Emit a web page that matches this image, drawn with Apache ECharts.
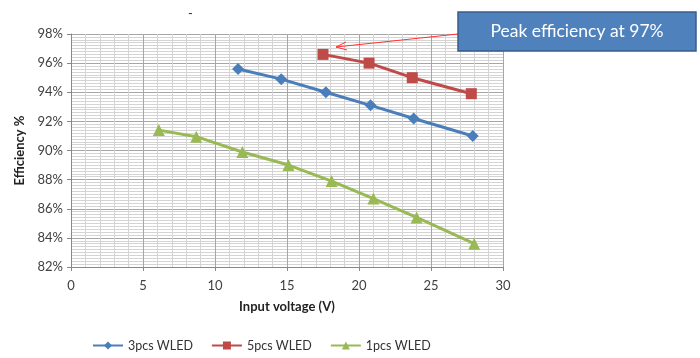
<!DOCTYPE html>
<html><head><meta charset="utf-8">
<script src="https://cdn.jsdelivr.net/npm/echarts@6/dist/echarts.min.js"></script>
<style>html,body{margin:0;padding:0;background:#fff}#c{width:700px;height:358px}</style>
</head><body><div id="c"></div>
<script>
const seriesNames = ['3pcs WLED', '5pcs WLED', '1pcs WLED'];
const x3 = [11.6, 14.6, 17.7, 20.8, 23.8, 27.9];
const y3 = [95.6, 94.9, 94.0, 93.1, 92.2, 91.0];
const x5 = [17.5, 20.7, 23.7, 27.8];
const y5 = [96.6, 96.0, 95.0, 93.9];
const x1 = [6.1, 8.7, 11.9, 15.1, 18.1, 21.0, 24.0, 28.0];
const y1 = [91.4, 90.95, 89.9, 89.0, 87.9, 86.7, 85.4, 83.6];
const annotationText = 'Peak efficiency at 97%';
const xName = 'Input voltage (V)';
const yName = 'Efficiency %';

const colors = ['#4A7EBB', '#BE4B48', '#98B954'];
const font = 'Lato, "Open Sans", sans-serif';
const zip = (xs, ys) => xs.map((v, i) => [v, ys[i]]);

const chart = echarts.init(document.getElementById('c'));
chart.setOption({
  animation: false,
  textStyle: { fontFamily: font },
  grid: { left: 71, right: 197, top: 34, bottom: 91 },
  xAxis: {
    type: 'value', min: 0, max: 30, interval: 5,
    name: xName, nameLocation: 'middle', nameGap: 33,
    nameTextStyle: { fontWeight: 'bold', fontSize: 13, color: '#222', fontFamily: font },
    axisLine: { show: true, onZero: false, lineStyle: { color: '#888' } },
    axisTick: { show: true, length: 4, lineStyle: { color: '#888' } },
    axisLabel: { fontSize: 13, color: '#404040', margin: 12 },
    splitLine: { show: true, lineStyle: { color: '#A6A6A6', width: 1 } },
    minorTick: { show: false, splitNumber: 5 },
    minorSplitLine: { show: true, lineStyle: { color: '#D4D4D4', width: 1 } }
  },
  yAxis: {
    type: 'value', min: 82, max: 98, interval: 2,
    name: yName, nameLocation: 'middle', nameGap: 44, nameRotate: 90,
    nameTextStyle: { fontWeight: 'bold', fontSize: 13, color: '#222', fontFamily: font },
    axisLine: { show: true, lineStyle: { color: '#888' } },
    axisTick: { show: true, length: 4, lineStyle: { color: '#888' } },
    axisLabel: { fontSize: 13, color: '#404040', formatter: '{value}%', margin: 8 },
    splitLine: { show: true, lineStyle: { color: '#A6A6A6', width: 1 } },
    minorTick: { show: false, splitNumber: 10 },
    minorSplitLine: { show: true, lineStyle: { color: '#D4D4D4', width: 1 } }
  },
  legend: {
    bottom: 1, left: 87, itemGap: 18, itemWidth: 30, itemHeight: 10,
    textStyle: { fontSize: 12.5, color: '#333', fontFamily: font },
    data: seriesNames
  },
  series: [
    { name: seriesNames[0], type: 'line', data: zip(x3, y3), symbol: 'diamond', symbolSize: 12,
      lineStyle: { width: 3, color: colors[0] }, itemStyle: { color: colors[0] } },
    { name: seriesNames[1], type: 'line', data: zip(x5, y5), symbol: 'rect', symbolSize: 11,
      lineStyle: { width: 3, color: colors[1] }, itemStyle: { color: colors[1] } },
    { name: seriesNames[2], type: 'line', data: zip(x1, y1), symbol: 'triangle', symbolSize: 12,
      lineStyle: { width: 3, color: colors[2] }, itemStyle: { color: colors[2] } }
  ],
  graphic: [
    { type: 'text', left: 188, top: 7, z: 100, style: { text: '-', fontSize: 13, fill: '#333', fontFamily: font } },
    { type: 'line', z: 100, shape: { x1: 458, y1: 34, x2: 336, y2: 47 }, style: { stroke: '#FF3030', lineWidth: 1 } },
    { type: 'polyline', z: 100, shape: { points: [[346, 42], [336, 47], [347, 50]] }, style: { stroke: '#FF3030', lineWidth: 1, fill: null } },
    { type: 'rect', z: 100, shape: { x: 458, y: 12, width: 238, height: 39 },
      style: { fill: '#4F81BD', stroke: '#385D8A', lineWidth: 1.5 } },
    { type: 'text', z: 101, x: 577, y: 31.5, style: { text: annotationText, fontSize: 17.5, fill: '#fff', fontFamily: font,
      textAlign: 'center', textVerticalAlign: 'middle' } }
  ]
});
</script></body></html>
